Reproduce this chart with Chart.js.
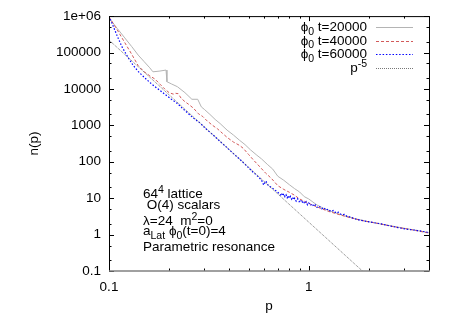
<!DOCTYPE html>
<html>
<head>
<meta charset="utf-8">
<title>n(p) spectrum</title>
<script src="https://cdn.jsdelivr.net/npm/chart.js"></script>
<style>
  html, body { margin: 0; padding: 0; background: #fff; }
</style>
</head>
<body>
<canvas id="spectrum" width="450" height="315"></canvas>

<script>
  // momentum p and occupation n(p)
  const pT20 = [0.100,0.110,0.120,0.130,0.140,0.150,0.160,0.166,0.180,0.193,0.195,0.205,0.220,0.240,0.260,0.278,0.290,0.300,0.320,0.340,
                0.360,0.390,0.420,0.450,0.480,0.510,0.550,0.580,0.620,0.660,0.700,0.750,0.800,0.850,0.900,0.950,1.00,1.05,1.10,1.20,
                1.35,1.50,1.70,2.00,2.30,2.70,3.10,3.50,4.00];
  const nT20 = [891000,457000,251000,145000,85000,56000,38000,29500,31000,33000,15800,13800,11500,7900,5200,5200,3200,2750,2000,1450,
                1120,740,540,390,295,214,151,120,85,63,40,31,23.4,18.2,14.8,11,9.5,7.8,6.5,5.1,
                4.0,3.3,2.75,2.24,1.95,1.66,1.45,1.29,1.12];

  const pT40 = [0.100,0.110,0.120,0.130,0.140,0.150,0.160,0.170,0.180,0.190,0.200,0.210,0.215,0.222,0.230,0.240,0.250,0.265,0.280,0.295,
                0.310,0.330,0.350,0.370,0.390,0.420,0.450,0.470,0.500,0.530,0.570,0.610,0.650,0.700,0.750,0.800,0.850,0.900,1.00,1.10,
                1.25,1.50,1.80,2.20,2.70,3.30,4.00];
  const nT40 = [955000,417000,186000,89000,43600,29500,22900,18600,13500,10000,7900,7200,7600,7400,5500,4470,3800,2950,2090,1740,
                1320,1000,794,603,468,347,282,234,158,110,72,48,35,22,17.4,14.5,12.0,9.5,7.2,5.75,
                4.37,3.24,2.5,2.04,1.62,1.35,1.1];

  const pT60 = [0.100,0.105,0.110,0.116,0.124,0.132,0.140,0.150,0.160,0.170,0.180,0.190,0.205,0.220,0.235,0.250,0.265,0.285,0.305,0.325,
                0.350,0.375,0.400,0.430,0.460,0.490,0.520,0.550,0.580,0.595,0.610,0.630,0.650,0.670,0.690,0.710,0.720,0.730,0.740,0.750,
                0.760,0.770,0.780,0.790,0.800,0.810,0.820,0.830,0.840,0.850,0.865,0.880,0.895,0.910,0.925,0.940,0.955,0.970,0.985,1.00,
                1.02,1.04,1.06,1.08,1.10,1.13,1.16,1.19,1.22,1.25,1.29,1.33,1.37,1.41,1.46,1.51,1.56,1.62,1.68,1.80,
                1.95,2.10,2.27,2.50,2.80,3.10,3.50,3.90,4.00];
  const nT60 = [1000000,525000,282000,145000,76000,44700,30200,20900,15100,11500,9100,7200,5250,3980,2820,2090,1580,1170,813,603,
                417,295,214,148,107,76,55,42,31.6,23,29.5,21.4,20.0,17.4,15.5,13.5,12.2,13.8,11.6,13.2,
                11.0,12.4,10.3,11.8,9.9,11.2,9.4,10.6,9.0,10.0,8.3,9.6,8.0,9.0,7.4,8.4,7.0,8.0,6.6,7.4,
                6.3,7.0,5.9,6.5,5.6,6.0,5.1,5.5,4.7,5.0,4.3,4.6,3.9,4.1,3.5,3.6,3.1,3.05,2.75,2.5,
                2.3,2.14,2.0,1.78,1.55,1.41,1.29,1.17,1.15];

  // p^-5 guide line
  const pPow = [0.1, 1, 2];
  const nPow = [220000, 2.2, 0.069];

  const xTickValues = [0.1, 1];
  const xTickLabels = ['0.1', '1'];
  const xMinorValues = [0.2,0.3,0.4,0.5,0.6,0.7,0.8,0.9,2,3,4];
  const yTickValues = [0.1, 1, 10, 100, 1000, 10000, 100000, 1000000];
  const yTickLabels = ['0.1', '1', '10', '100', '1000', '10000', '100000', '1e+06'];
  const yMinorValues = [0.2,0.5,2,5,20,50,200,500,2000,5000,20000,50000,200000,500000];

  // '_' = subscript, '^' = superscript
  const legendLabels = [
    ['ϕ', '_0', ' t=20000'],
    ['ϕ', '_0', ' t=40000'],
    ['ϕ', '_0', ' t=60000'],
    ['p', '^-5']
  ];
  const noteLines = [
    ['64', '^4', ' lattice'],
    [' O(4) scalars'],
    ['λ=24  m', '^2', '=0'],
    ['a', '_Lat', ' ϕ', '_0', '(t=0)=4'],
    ['Parametric resonance']
  ];

  const FONT = "'Liberation Sans', Arial, Helvetica, sans-serif";
  const FS = 13.5;

  function pts(ps, ns) {
    return ps.map((p, i) => ({ x: p, y: ns[i] }));
  }

  function drawRich(ctx, segs, x, y, align) {
    const parts = segs.map(s => {
      const small = s[0] === '_' || s[0] === '^';
      const txt = small ? s.slice(1) : s;
      ctx.font = (small ? FS * 0.78 : FS) + 'px ' + FONT;
      return { txt, small, kind: s[0], w: ctx.measureText(txt).width };
    });
    const total = parts.reduce((a, p) => a + p.w, 0);
    let cx = align === 'right' ? x - total : x;
    parts.forEach(p => {
      ctx.font = (p.small ? FS * 0.78 : FS) + 'px ' + FONT;
      const dy = !p.small ? 0 : (p.kind === '_' ? 3.5 : -5.5);
      ctx.fillText(p.txt, cx, y + dy);
      cx += p.w;
    });
  }

  // inward gnuplot style ticks on all four sides plus the border
  const frame = {
    id: 'frame',
    afterDatasetsDraw(chart) {
      const { ctx, chartArea: a, scales: { x, y } } = chart;
      ctx.save();
      ctx.strokeStyle = '#000';
      ctx.lineWidth = 1;
      ctx.beginPath();
      const xt = (v, len) => {
        const px = Math.round(x.getPixelForValue(v)) + 0.5;
        ctx.moveTo(px, a.bottom); ctx.lineTo(px, a.bottom - len);
        ctx.moveTo(px, a.top); ctx.lineTo(px, a.top + len);
      };
      const yt = (v, len) => {
        const py = Math.round(y.getPixelForValue(v)) + 0.5;
        ctx.moveTo(a.left, py); ctx.lineTo(a.left + len, py);
        ctx.moveTo(a.right, py); ctx.lineTo(a.right - len, py);
      };
      xTickValues.forEach(v => xt(v, 5));
      xMinorValues.forEach(v => xt(v, 2.5));
      yTickValues.forEach(v => yt(v, 5));
      yMinorValues.forEach(v => yt(v, 2.5));
      ctx.stroke();
      ctx.beginPath();
      ctx.moveTo(a.left + 0.5, a.bottom);
      ctx.lineTo(a.left + 0.5, a.top + 0.5);
      ctx.lineTo(a.right + 0.5, a.top + 0.5);
      ctx.lineTo(a.right + 0.5, a.bottom);
      ctx.stroke();
      ctx.strokeStyle = '#808080';
      ctx.lineWidth = 1.6;
      ctx.beginPath();
      ctx.moveTo(a.left, a.bottom);
      ctx.lineTo(a.right + 1, a.bottom);
      ctx.stroke();
      ctx.restore();
    },
    afterDraw(chart) {
      const { ctx } = chart;
      ctx.save();
      ctx.fillStyle = '#000';
      ctx.textBaseline = 'alphabetic';
      // legend, top right
      chart.data.datasets.forEach((ds, i) => {
        const rowY = 27 + i * 13.7;
        drawRich(ctx, legendLabels[i], 367, rowY + 4, 'right');
        ctx.save();
        ctx.strokeStyle = ds.borderColor;
        ctx.lineWidth = ds.borderWidth;
        ctx.setLineDash(ds.borderDash || []);
        ctx.beginPath();
        ctx.moveTo(376, Math.round(rowY) + 0.5);
        ctx.lineTo(413, Math.round(rowY) + 0.5);
        ctx.stroke();
        ctx.restore();
      });
      // annotation block
      const baselines = [198, 209, 225, 235, 251];
      noteLines.forEach((line, i) => drawRich(ctx, line, 143, baselines[i], 'left'));
      ctx.restore();
    }
  };

  Chart.defaults.font.family = FONT;
  Chart.defaults.font.size = FS;
  Chart.defaults.color = '#000';

  const ctx = document.getElementById('spectrum').getContext('2d');
  new Chart(ctx, {
    type: 'scatter',
    data: {
      datasets: [
        { data: pts(pT20, nT20), borderColor: '#b4b4b4', borderWidth: 1, order: 4 },
        { data: pts(pT40, nT40), borderColor: '#d25a5a', borderWidth: 1, borderDash: [3, 2], order: 3 },
        { data: pts(pT60, nT60), borderColor: '#0000ff', borderWidth: 1.2, borderDash: [1.5, 1.8], order: 2 },
        { data: pts(pPow, nPow), borderColor: '#555555', borderWidth: 0.8, borderDash: [1, 1], order: 1 }
      ].map(d => Object.assign(d, { showLine: true, pointRadius: 0, fill: false, tension: 0 }))
    },
    options: {
      responsive: false,
      animation: false,
      devicePixelRatio: 1,
      layout: { padding: { top: 16, right: 21, left: 0, bottom: 0 } },
      plugins: { legend: { display: false }, tooltip: { enabled: false } },
      scales: {
        x: {
          type: 'logarithmic',
          min: 0.1, max: 4,
          afterBuildTicks: s => { s.ticks = xTickValues.map(v => ({ value: v })); },
          afterFit: s => { s.height = 44; },
          grid: { display: false, drawTicks: false },
          border: { display: false },
          ticks: {
            autoSkip: false, maxRotation: 0, padding: 8,
            callback: v => xTickLabels[xTickValues.indexOf(v)] || ''
          },
          title: { display: true, text: 'p', padding: { top: 0, bottom: 1 } }
        },
        y: {
          type: 'logarithmic',
          min: 0.1, max: 1000000,
          afterBuildTicks: s => { s.ticks = yTickValues.map(v => ({ value: v })); },
          afterFit: s => { s.width = 109; },
          grid: { display: false, drawTicks: false },
          border: { display: false },
          ticks: {
            autoSkip: false, padding: 8,
            callback: v => yTickLabels[yTickValues.indexOf(v)] || ''
          },
          title: { display: true, text: 'n(p)', padding: { top: 26, bottom: 0 } }
        }
      }
    },
    plugins: [frame]
  });
</script>
</body>
</html>
